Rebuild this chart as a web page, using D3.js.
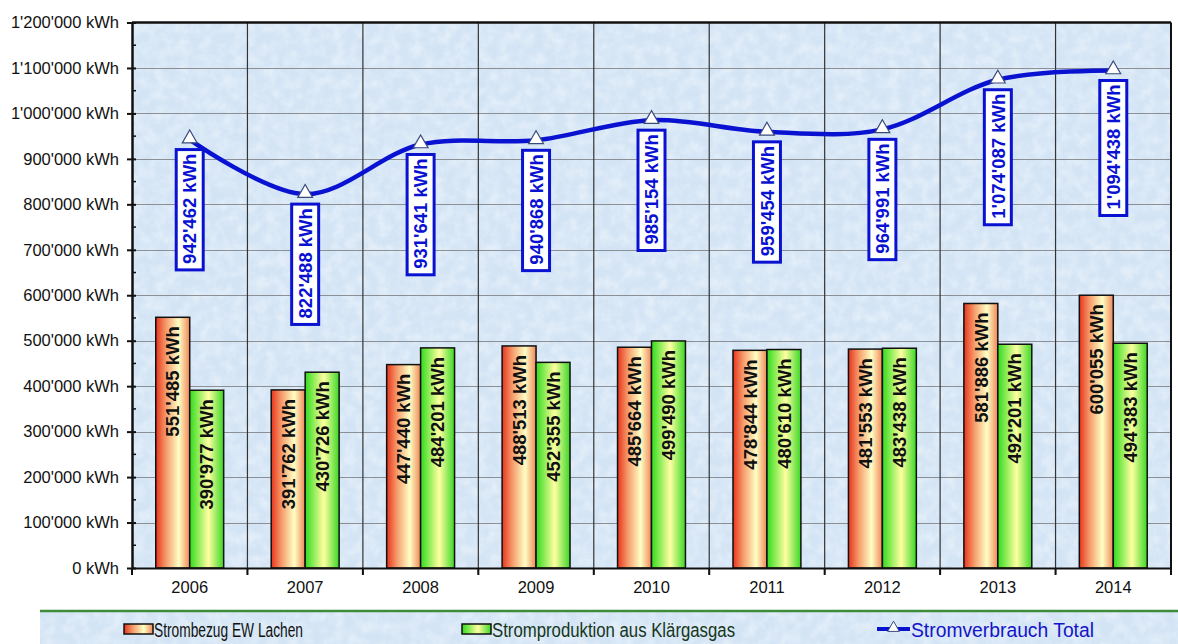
<!DOCTYPE html>
<html>
<head>
<meta charset="utf-8">
<script src="https://cdnjs.cloudflare.com/ajax/libs/d3/7.8.5/d3.min.js"></script>
<style>
  html, body { margin: 0; padding: 0; background: #fff; }
  svg { display: block; font-family: "Liberation Sans", Arial, sans-serif; }
  svg text { font-family: "Liberation Sans", Arial, sans-serif; }
</style>
</head>
<body>
<script>
var years = ['2006', '2007', '2008', '2009', '2010', '2011', '2012', '2013', '2014'];
var bezug = [551485, 391762, 447440, 488513, 485664, 478844, 481553, 581886, 600055];
var produktion = [390977, 430726, 484201, 452355, 499490, 480610, 483438, 492201, 494383];
var total = [942462, 822488, 931641, 940868, 985154, 959454, 964991, 1074087, 1094438];
var yTicks = [0, 100000, 200000, 300000, 400000, 500000, 600000, 700000, 800000, 900000, 1000000, 1100000, 1200000];
var legendNames = ['Strombezug EW Lachen', 'Stromproduktion aus Klärgasgas', 'Stromverbrauch Total'];

var width = 1178;
var height = 644;
var pLeft = 132, pRight = 1171, pTop = 22.5, pBottom = 568;

var fmt = d3.formatLocale({ decimal: '.', thousands: "'", grouping: [3], currency: ['', ''] }).format(',d');
function kwh(v) { return fmt(v) + ' kWh'; }

var x = d3.scaleBand().domain(years).range([pLeft, pRight]).padding(0);
var sub = d3.scaleBand().domain(['a', 'b']).range([0, x.bandwidth()]).paddingInner(0).paddingOuter(0.7);
var y = d3.scaleLinear().domain([0, 1200000]).range([pBottom, pTop]);

var svg = d3.select('body').append('svg').attr('width', width).attr('height', height).attr('viewBox', [0, 0, width, height].join(' '));
var defs = svg.append('defs');

var tex = defs.append('filter').attr('id', 'tex').attr('x', 0).attr('y', 0).attr('width', 1).attr('height', 1);
tex.append('feTurbulence').attr('type', 'fractalNoise').attr('baseFrequency', 0.09).attr('numOctaves', 3).attr('seed', 7);
tex.append('feColorMatrix').attr('type', 'matrix').attr('values', '0 0 0 0 1  0 0 0 0 1  0 0 0 0 1  0 0 0 1.8 -0.6');

var red = defs.append('linearGradient').attr('id', 'gRed');
[[0, '#e8341c'], [0.3, '#f59a6a'], [0.68, '#ffffc4'], [1, '#f08658']].forEach(function (s) {
  red.append('stop').attr('offset', s[0]).attr('stop-color', s[1]);
});
var green = defs.append('linearGradient').attr('id', 'gGreen');
[[0, '#30dc1c'], [0.55, '#ffffa0'], [1, '#3ad826']].forEach(function (s) {
  green.append('stop').attr('offset', s[0]).attr('stop-color', s[1]);
});

// plot background
svg.append('rect').attr('x', pLeft).attr('y', pTop).attr('width', pRight - pLeft).attr('height', pBottom - pTop).attr('fill', '#d3e4f5');
svg.append('rect').attr('x', pLeft).attr('y', pTop).attr('width', pRight - pLeft).attr('height', pBottom - pTop).attr('filter', 'url(#tex)').attr('opacity', 0.4);

// grid
svg.append('g').selectAll('line').data(yTicks.slice(1, -1)).enter().append('line')
  .attr('x1', pLeft).attr('x2', pRight).attr('y1', function (d) { return Math.round(y(d)) + 0.5; }).attr('y2', function (d) { return Math.round(y(d)) + 0.5; })
  .attr('stroke', '#8c8f94').attr('stroke-width', 1);
svg.append('g').selectAll('line').data(years.slice(1)).enter().append('line')
  .attr('x1', function (d) { return x(d); }).attr('x2', function (d) { return x(d); }).attr('y1', pTop).attr('y2', pBottom + 6)
  .attr('stroke', '#333').attr('stroke-width', 1.2);

// bars
function bars(vals, key, fill) {
  var g = svg.append('g');
  g.selectAll('rect').data(vals).enter().append('rect')
    .attr('x', function (d, i) { return x(years[i]) + sub(key); })
    .attr('y', function (d) { return y(d); })
    .attr('width', sub.bandwidth())
    .attr('height', function (d) { return y(0) - y(d); })
    .attr('fill', fill).attr('stroke', '#111').attr('stroke-width', 1.5);
  g.selectAll('text').data(vals).enter().append('text')
    .attr('transform', function (d, i) { return 'translate(' + (x(years[i]) + sub(key) + sub.bandwidth() / 2) + ',' + (y(d) + 9) + ') rotate(-90)'; })
    .attr('text-anchor', 'end').attr('dy', '0.36em')
    .style('font-size', '18.5px').style('font-weight', 'bold').attr('fill', '#111')
    .text(kwh);
}
bars(bezug, 'a', 'url(#gRed)');
bars(produktion, 'b', 'url(#gGreen)');

// frame / axes
svg.append('line').attr('x1', pLeft).attr('x2', pRight).attr('y1', pTop).attr('y2', pTop).attr('stroke', '#111').attr('stroke-width', 2.5);
svg.append('line').attr('x1', pRight).attr('x2', pRight).attr('y1', pTop).attr('y2', pBottom).attr('stroke', '#111').attr('stroke-width', 2);

var yAxis = svg.append('g').attr('transform', 'translate(' + pLeft + ',0)')
  .call(d3.axisLeft(y).tickValues(yTicks).tickFormat(kwh).tickSizeInner(5).tickSizeOuter(0).tickPadding(8));
yAxis.attr('font-size', null).attr('font-family', null);
yAxis.select('.domain').attr('stroke', '#111').attr('stroke-width', 2.5);
yAxis.selectAll('.tick line').attr('x2', 4).attr('x1', -5).attr('stroke', '#111').attr('stroke-width', 2);
yAxis.selectAll('.tick text').attr('x', -13).style('font-size', '16.5px').attr('fill', '#111');
svg.append('g').selectAll('line').data(yTicks.slice(0, -1)).enter().append('line')
  .attr('x1', pLeft).attr('x2', pLeft + 4).attr('y1', function (d) { return y(d + 50000); }).attr('y2', function (d) { return y(d + 50000); })
  .attr('stroke', '#111').attr('stroke-width', 1.5);

var xAxis = svg.append('g').attr('transform', 'translate(0,' + pBottom + ')')
  .call(d3.axisBottom(x).tickSize(0).tickPadding(13));
xAxis.attr('font-size', null).attr('font-family', null);
xAxis.select('.domain').attr('stroke', '#111').attr('stroke-width', 2);
xAxis.selectAll('.tick text').style('font-size', '16.5px').attr('fill', '#111');
svg.append('g').selectAll('line').data(years.concat(['end'])).enter().append('line')
  .attr('x1', function (d, i) { return i < years.length ? x(d) : pRight; }).attr('x2', function (d, i) { return i < years.length ? x(d) : pRight; })
  .attr('y1', pBottom).attr('y2', pBottom + 7).attr('stroke', '#111').attr('stroke-width', 2);

// total line
var cx = function (d, i) { return x(years[i]) + x.bandwidth() / 2; };
var line = d3.line().x(cx).y(function (d) { return y(d); }).curve(d3.curveCatmullRom.alpha(0.5));
svg.append('path').attr('d', line(total)).attr('fill', 'none').attr('stroke', '#0a12d2').attr('stroke-width', 4.5);

var tri = d3.symbol().type(d3.symbolTriangle).size(95);
svg.append('g').selectAll('path').data(total).enter().append('path')
  .attr('transform', function (d, i) { return 'translate(' + cx(d, i) + ',' + (y(d) - 1) + ')'; })
  .attr('d', tri).attr('fill', '#fff').attr('stroke', '#3a4a7a').attr('stroke-width', 1.2);

var lab = svg.append('g').selectAll('g').data(total).enter().append('g')
  .attr('transform', function (d, i) { return 'translate(' + cx(d, i) + ',' + (y(d) + 10) + ')'; });
lab.append('rect').attr('fill', '#fff').attr('stroke', '#0a12d2').attr('stroke-width', 3);
lab.append('text')
  .attr('text-anchor', 'end').attr('dy', '0.36em')
  .style('font-size', '18.5px').style('font-weight', 'bold').attr('fill', '#0a12d2')
  .text(kwh)
  .each(function () {
    var len = this.getComputedTextLength();
    d3.select(this).attr('transform', 'translate(0,4) rotate(-90)');
    d3.select(this.previousSibling).attr('x', -13.5).attr('y', 0).attr('width', 27).attr('height', len + 10);
  });

// legend
var lg = svg.append('g');
lg.append('rect').attr('x', 40).attr('y', 611).attr('width', width - 40).attr('height', height - 611).attr('fill', '#d3e4f5');
lg.append('rect').attr('x', 40).attr('y', 611).attr('width', width - 40).attr('height', height - 611).attr('filter', 'url(#tex)').attr('opacity', 0.4);
lg.append('line').attr('x1', 40).attr('x2', width).attr('y1', 611).attr('y2', 611).attr('stroke', '#3e8c3a').attr('stroke-width', 2.5);

var legendX = [124, 462, 877];
var legendFills = ['url(#gRed)', 'url(#gGreen)', null];
var legendColors = ['#111', '#15361a', '#1414c8'];
legendNames.forEach(function (name, i) {
  if (legendFills[i]) {
    lg.append('rect').attr('x', legendX[i]).attr('y', 624).attr('width', 29).attr('height', 10)
      .attr('fill', legendFills[i]).attr('stroke', '#111').attr('stroke-width', 1.5);
  } else {
    lg.append('line').attr('x1', legendX[i]).attr('x2', legendX[i] + 33).attr('y1', 629).attr('y2', 629).attr('stroke', '#0a12d2').attr('stroke-width', 4);
    lg.append('path').attr('transform', 'translate(' + (legendX[i] + 16.5) + ',628)').attr('d', d3.symbol().type(d3.symbolTriangle).size(60))
      .attr('fill', '#fff').attr('stroke', '#3a4a7a').attr('stroke-width', 1);
  }
});
var legendTextX = [154, 492, 911];
var legendTextW = [149, 243, 183];
legendNames.forEach(function (name, i) {
  lg.append('text').attr('x', legendTextX[i]).attr('y', 637).style('font-size', '20px')
    .attr('fill', legendColors[i]).attr('textLength', legendTextW[i]).attr('lengthAdjust', 'spacingAndGlyphs').text(name);
});
</script>
</body>
</html>
